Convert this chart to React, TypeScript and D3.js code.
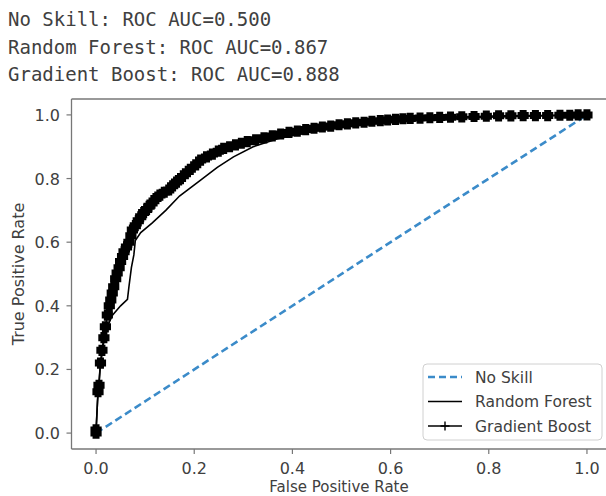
import React from 'react';
import * as d3 from 'd3';

// header lines printed above the plot
const headerLines = [
  'No Skill: ROC AUC=0.500',
  'Random Forest: ROC AUC=0.867',
  'Gradient Boost: ROC AUC=0.888',
];

const ticks = [0, 0.2, 0.4, 0.6, 0.8, 1.0];

const noSkillFpr = [0, 1];
const noSkillTpr = [0, 1];

const rfFpr = [0, 0.003, 0.008, 0.015, 0.022, 0.033, 0.05, 0.064, 0.067, 0.072, 0.077, 0.08, 0.091, 0.114, 0.142, 0.17, 0.213, 0.247, 0.28, 0.32, 0.37, 0.45, 0.55, 0.65, 0.8, 0.9, 1];
const rfTpr = [0, 0.1, 0.2, 0.28, 0.33, 0.37, 0.4, 0.42, 0.46, 0.52, 0.56, 0.605, 0.63, 0.66, 0.7, 0.745, 0.795, 0.835, 0.868, 0.9, 0.925, 0.95, 0.97, 0.985, 0.993, 0.997, 1];

const gbFpr = [0, 0, 0.004, 0.006, 0.009, 0.012, 0.016, 0.019, 0.023, 0.027, 0.03, 0.033, 0.036, 0.04, 0.043, 0.047, 0.05, 0.054, 0.057, 0.062, 0.067, 0.071, 0.074, 0.08, 0.086, 0.091, 0.097, 0.103, 0.108, 0.114, 0.122, 0.13, 0.139, 0.148, 0.156, 0.164, 0.172, 0.182, 0.192, 0.203, 0.213, 0.225, 0.237, 0.249, 0.26, 0.272, 0.284, 0.296, 0.308, 0.325, 0.342, 0.359, 0.376, 0.393, 0.41, 0.427, 0.444, 0.461, 0.478, 0.495, 0.512, 0.529, 0.546, 0.562, 0.579, 0.594, 0.61, 0.625, 0.64, 0.66, 0.68, 0.7, 0.722, 0.745, 0.77, 0.795, 0.82, 0.845, 0.87, 0.895, 0.92, 0.945, 0.965, 0.982, 1];
const gbTpr = [0, 0.01, 0.13, 0.15, 0.22, 0.26, 0.3, 0.334, 0.371, 0.4, 0.418, 0.44, 0.46, 0.485, 0.503, 0.52, 0.539, 0.555, 0.57, 0.585, 0.6, 0.62, 0.638, 0.652, 0.667, 0.68, 0.693, 0.703, 0.713, 0.723, 0.737, 0.748, 0.757, 0.764, 0.777, 0.789, 0.8, 0.815, 0.829, 0.843, 0.858, 0.868, 0.877, 0.886, 0.895, 0.9, 0.906, 0.911, 0.916, 0.922, 0.928, 0.934, 0.94, 0.945, 0.949, 0.954, 0.958, 0.962, 0.965, 0.969, 0.972, 0.975, 0.977, 0.98, 0.982, 0.984, 0.986, 0.988, 0.989, 0.99, 0.991, 0.992, 0.993, 0.994, 0.995, 0.996, 0.997, 0.997, 0.998, 0.998, 0.998, 0.999, 0.999, 1, 1];

const legendLabels = ['No Skill', 'Random Forest', 'Gradient Boost'];

const BLUE = '#3b8bc9';
const TEXT = '#404040';
const SPINE = '#777';

const zip = (xs: number[], ys: number[]) => xs.map((x, i) => [x, ys[i]] as [number, number]);

export default function App() {
  const W = 606, H = 496;
  const left = 71.5, right = 611.5, top = 99, bottom = 449;

  const x = d3.scaleLinear().domain([-0.05, 1.05]).range([left, right]);
  const y = d3.scaleLinear().domain([-0.05, 1.05]).range([bottom, top]);
  const line = d3.line<[number, number]>().x(d => x(d[0])).y(d => y(d[1]));

  const gbPts = zip(gbFpr, gbTpr);
  const plus = (cx: number, cy: number, s: number) => `M${cx - s},${cy}H${cx + s}M${cx},${cy - s}V${cy + s}`;

  const legX = 423, legY = 364;
  const font = '"DejaVu Sans", sans-serif';

  return (
    <svg width={W} height={H} style={{ position: 'fixed', left: 0, top: 0, background: '#fff' }}>
      <rect width={W} height={H} fill="#fff" />
      {headerLines.map((t, i) => (
        <text key={t} x={8} y={26 + i * 27.5} fontFamily='"DejaVu Sans Mono", monospace' fontSize={19} fill={TEXT}>{t}</text>
      ))}

      <defs>
        <clipPath id="plotclip">
          <rect x={left} y={top} width={right - left} height={bottom - top} />
        </clipPath>
      </defs>

      <g clipPath="url(#plotclip)">
        <path d={line(zip(noSkillFpr, noSkillTpr)) || ''} fill="none" stroke={BLUE} strokeWidth={2.6} strokeDasharray="7.5,4" />
        <path d={line(zip(rfFpr, rfTpr)) || ''} fill="none" stroke="#000" strokeWidth={1.6} />
        <path d={line(gbPts) || ''} fill="none" stroke="#000" strokeWidth={1.6} />
        <path d={gbPts.map(p => plus(x(p[0]), y(p[1]), 5.6)).join('')} fill="none" stroke="#000" strokeWidth={7} />
      </g>

      {/* spines */}
      <g stroke={SPINE} strokeWidth={1.3} fill="none">
        <line x1={left} x2={left} y1={top} y2={bottom} />
        <line x1={left} x2={right} y1={bottom} y2={bottom} />
        <line x1={left} x2={right} y1={top} y2={top} />
      </g>

      {/* x ticks */}
      {ticks.map(t => (
        <g key={'x' + t}>
          <line x1={x(t)} x2={x(t)} y1={bottom} y2={bottom + 5} stroke={SPINE} strokeWidth={1.2} />
          <text x={x(t)} y={473.5} textAnchor="middle" fontFamily={font} fontSize={16} fill={TEXT}>{t.toFixed(1)}</text>
        </g>
      ))}
      {/* y ticks */}
      {ticks.map(t => (
        <g key={'y' + t}>
          <line x1={left - 5} x2={left} y1={y(t)} y2={y(t)} stroke={SPINE} strokeWidth={1.2} />
          <text x={60} y={y(t) + 6} textAnchor="end" fontFamily={font} fontSize={16} fill={TEXT}>{t.toFixed(1)}</text>
        </g>
      ))}

      <text x={339} y={492} textAnchor="middle" fontFamily={font} fontSize={15} fill={TEXT}>False Positive Rate</text>
      <text transform={`translate(24,${(top + bottom) / 2}) rotate(-90)`} textAnchor="middle" fontFamily={font} fontSize={16} fill={TEXT}>True Positive Rate</text>

      {/* legend */}
      <rect x={legX} y={legY} width={179} height={76} rx={4} fill="#fff" fillOpacity={0.85} stroke="#d0d0d0" strokeWidth={1} />
      {legendLabels.map((l, i) => {
        const ly = legY + 13 + i * 24.5;
        return (
          <g key={l}>
            {i === 0 && <line x1={428} x2={462} y1={ly} y2={ly} stroke={BLUE} strokeWidth={2.4} strokeDasharray="7,4" />}
            {i > 0 && <line x1={428} x2={462} y1={ly} y2={ly} stroke="#000" strokeWidth={1.6} />}
            {i === 2 && <path d={plus(445, ly, 4.5)} stroke="#000" strokeWidth={1.4} />}
            <text x={475} y={ly + 5.5} fontFamily={font} fontSize={15.5} fill={TEXT}>{l}</text>
          </g>
        );
      })}
    </svg>
  );
}
